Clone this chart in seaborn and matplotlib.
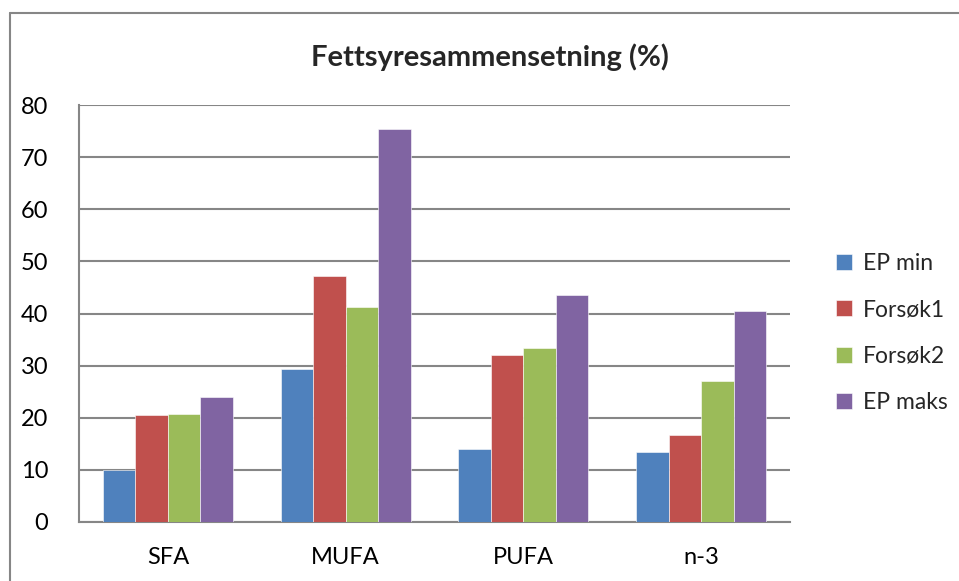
import seaborn as sns
import pandas as pd
import matplotlib.pyplot as plt
from matplotlib.lines import Line2D

categories = ['SFA', 'MUFA', 'PUFA', 'n-3']
series = ['EP min', 'Forsøk1', 'Forsøk2', 'EP maks']
ep_min = [10.0, 29.4, 14.0, 13.4]
forsok1 = [20.5, 47.2, 32.0, 16.6]
forsok2 = [20.7, 41.2, 33.4, 27.0]
ep_maks = [23.9, 75.3, 43.5, 40.4]
colors = ['#4F81BD', '#C0504D', '#9BBB59', '#8064A2']
y_ticks = [0, 10, 20, 30, 40, 50, 60, 70, 80]


def main():
    sns.set_style("white")
    plt.rcParams['font.family'] = ['Lato', 'DejaVu Sans']

    rows = []
    for name, vals in zip(series, [ep_min, forsok1, forsok2, ep_maks]):
        for cat, v in zip(categories, vals):
            rows.append((cat, name, v))
    df = pd.DataFrame(rows, columns=['kategori', 'serie', 'verdi'])

    fig = plt.figure(figsize=(9.59, 5.81), dpi=100)
    ax = fig.add_axes([79 / 959, 1 - 522 / 581, 711 / 959, 417 / 581])
    sns.barplot(data=df, x='kategori', y='verdi', hue='serie', order=categories,
                hue_order=series, palette=colors, width=0.73, saturation=1,
                edgecolor='white', linewidth=0.4, ax=ax, zorder=3)

    ax.set_ylim(0, 80)
    ax.set_xlim(-0.5, 3.5)
    ax.set_yticks(y_ticks)
    ax.yaxis.grid(True, color='#868686', linewidth=1.5, zorder=0)
    ax.set_axisbelow(True)
    ax.set_xlabel('')
    ax.set_ylabel('')
    for s in ['top', 'right']:
        ax.spines[s].set_visible(False)
    for s in ['left', 'bottom']:
        ax.spines[s].set_color('#868686')
        ax.spines[s].set_linewidth(1.5)
    ax.tick_params(axis='both', length=0, labelsize=17, colors='black')
    ax.tick_params(axis='y', pad=22)
    ax.tick_params(axis='x', pad=18)

    fig.text(490 / 959, 1 - 57 / 581, 'Fettsyresammensetning (%)', ha='center', va='center',
             fontsize=21, fontweight='bold')

    handles, labels = ax.get_legend_handles_labels()
    ax.legend(handles, labels, loc='center left', bbox_to_anchor=(815 / 959, 1 - 333 / 581),
              bbox_transform=fig.transFigure, frameon=False, fontsize=16.5,
              handlelength=0.7, handleheight=0.7, handletextpad=0.5, labelspacing=1.1)

    # chart frame from the spreadsheet
    fig.add_artist(Line2D([10 / 959, 10 / 959], [0, 1 - 13 / 581], color='#868686', linewidth=1.5))
    fig.add_artist(Line2D([10 / 959, 1], [1 - 13 / 581, 1 - 13 / 581], color='#868686', linewidth=1.5))

    plt.savefig('out.png', dpi=100)


if __name__ == '__main__':
    main()
